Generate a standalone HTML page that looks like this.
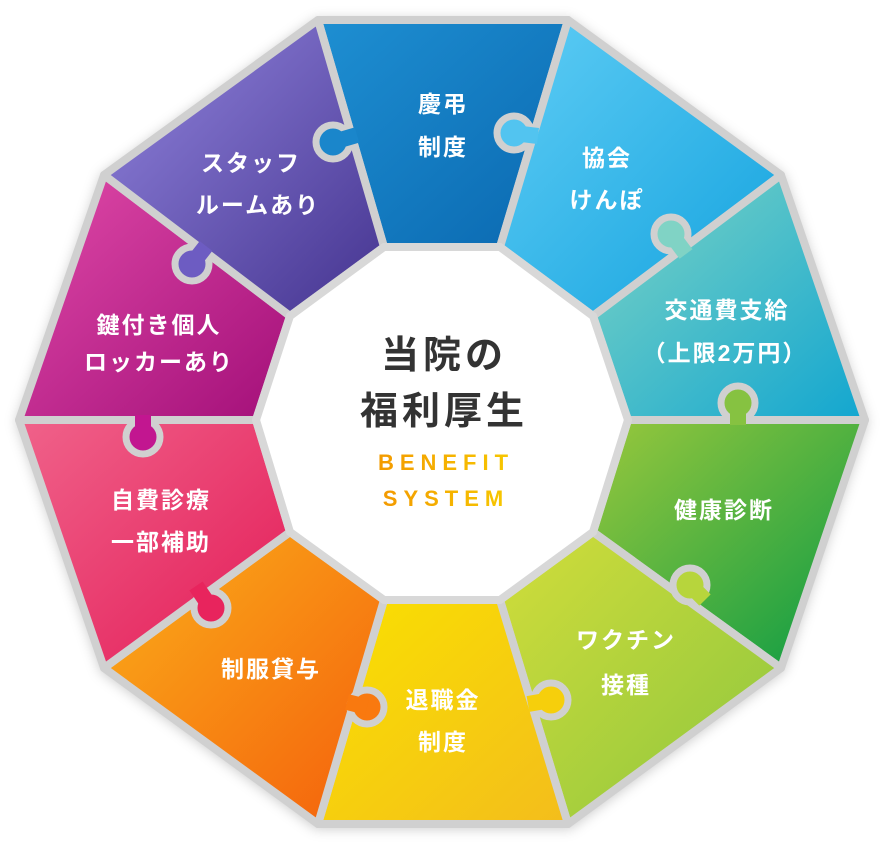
<!DOCTYPE html>
<html><head><meta charset="utf-8"><style>
html,body{margin:0;padding:0;background:#fff;width:884px;height:846px;overflow:hidden}
svg{display:block}
.l{font-family:"Liberation Sans","Noto Sans CJK JP",sans-serif;font-weight:bold;fill:#fff;font-size:23px;text-anchor:middle;letter-spacing:2px}
.c{font-family:"Liberation Sans","Noto Sans CJK JP",sans-serif;font-weight:bold;fill:#333;font-size:38px;text-anchor:middle;letter-spacing:4px}
.e{font-family:"Liberation Sans","Noto Sans CJK JP",sans-serif;font-size:22px;font-weight:bold;text-anchor:middle;letter-spacing:6px}
</style></head><body>
<svg width="884" height="846" viewBox="0 0 884 846">
<defs>
<filter id="sh" x="-10%" y="-10%" width="120%" height="120%"><feDropShadow dx="0" dy="2" stdDeviation="6" flood-color="#000" flood-opacity="0.2"/></filter>
<linearGradient id="g1" x1="0" y1="0" x2="1" y2="1"><stop offset="0" stop-color="#1e8fd2"/><stop offset="1" stop-color="#0a68b0"/></linearGradient>
<linearGradient id="g2" x1="0" y1="0" x2="1" y2="1"><stop offset="0" stop-color="#5fcdf5"/><stop offset="1" stop-color="#13a2de"/></linearGradient>
<linearGradient id="g3" x1="0" y1="0" x2="1" y2="1"><stop offset="0" stop-color="#7fd4c4"/><stop offset="1" stop-color="#12a6d0"/></linearGradient>
<linearGradient id="g4" x1="0" y1="0" x2="1" y2="1"><stop offset="0" stop-color="#9ac83c"/><stop offset="1" stop-color="#079a45"/></linearGradient>
<linearGradient id="g5" x1="0" y1="0" x2="1" y2="1"><stop offset="0" stop-color="#d2dd3a"/><stop offset="1" stop-color="#8cc63f"/></linearGradient>
<linearGradient id="g6" x1="0" y1="0" x2="1" y2="1"><stop offset="0" stop-color="#fae100"/><stop offset="1" stop-color="#f3bd1c"/></linearGradient>
<linearGradient id="g7" x1="0" y1="0" x2="1" y2="1"><stop offset="0" stop-color="#fbb01a"/><stop offset="1" stop-color="#f45f0c"/></linearGradient>
<linearGradient id="g8" x1="0" y1="0" x2="1" y2="1"><stop offset="0" stop-color="#f0628a"/><stop offset="1" stop-color="#e31b57"/></linearGradient>
<linearGradient id="g9" x1="0" y1="0" x2="1" y2="1"><stop offset="0" stop-color="#e04aa8"/><stop offset="1" stop-color="#a30f79"/></linearGradient>
<linearGradient id="g10" x1="0" y1="0" x2="1" y2="1"><stop offset="0" stop-color="#9386df"/><stop offset="1" stop-color="#44338f"/></linearGradient>
<linearGradient id="ge" x1="0" y1="0" x2="1" y2="0"><stop offset="0" stop-color="#f39a00"/><stop offset="1" stop-color="#f7c800"/></linearGradient>
</defs>
<polygon points="316,17 570,17 784,173 868,420 784,670 570,827 316,827 101,670 16,420 101,173" fill="#d2d2d2" filter="url(#sh)"/>
<g stroke="#d0d0d0" stroke-width="8" stroke-linejoin="round">
<polygon points="318,20 568,20 500,247 384,247" fill="url(#g1)"/>
<polygon points="568,20 781,175 593,316 500,247" fill="url(#g2)"/>
<polygon points="781,175 865,420 628,420 593,316" fill="url(#g3)"/>
<polygon points="865,420 781,668 593,532 628,420" fill="url(#g4)"/>
<polygon points="781,668 568,824 500,600 593,532" fill="url(#g5)"/>
<polygon points="568,824 318,824 384,600 500,600" fill="url(#g6)"/>
<polygon points="318,824 104,668 290,532 384,600" fill="url(#g7)"/>
<polygon points="104,668 19,420 256,420 290,532" fill="url(#g8)"/>
<polygon points="19,420 104,175 290,316 256,420" fill="url(#g9)"/>
<polygon points="104,175 318,20 384,247 290,316" fill="url(#g10)"/>
</g>
<g stroke="#d0d0d0" stroke-width="7">
<circle cx="333" cy="142" r="17" fill="#1a86cb"/>
<circle cx="514" cy="133" r="17" fill="#52c4f0"/>
<circle cx="671" cy="234" r="17" fill="#80d3c5"/>
<circle cx="738" cy="403" r="17" fill="#86c241"/>
<circle cx="690" cy="585" r="17" fill="#b7d53c"/>
<circle cx="551" cy="700" r="17" fill="#f6cf0c"/>
<circle cx="367" cy="707" r="17" fill="#f9790f"/>
<circle cx="211" cy="608" r="17" fill="#e8245d"/>
<circle cx="143" cy="437" r="17" fill="#c21690"/>
<circle cx="192" cy="264" r="17" fill="#6d5cc2"/>
</g>
<g stroke-width="16" stroke-linecap="butt">
<line x1="357" y1="135" x2="333" y2="142" stroke="#1a86cb"/>
<line x1="538" y1="136" x2="514" y2="133" stroke="#52c4f0"/>
<line x1="686" y1="254" x2="671" y2="234" stroke="#80d3c5"/>
<line x1="738" y1="425" x2="738" y2="403" stroke="#86c241"/>
<line x1="705" y1="600" x2="690" y2="585" stroke="#b7d53c"/>
<line x1="528" y1="704" x2="551" y2="700" stroke="#f6cf0c"/>
<line x1="347" y1="702" x2="367" y2="707" stroke="#f9790f"/>
<line x1="196" y1="586" x2="211" y2="608" stroke="#e8245d"/>
<line x1="143" y1="415" x2="143" y2="437" stroke="#c21690"/>
<line x1="206" y1="246" x2="192" y2="264" stroke="#6d5cc2"/>
</g>
<polygon points="384,247 500,247 593,316 628,420 593,532 500,600 384,600 290,532 256,420 290,316" fill="#fff" stroke="#d8d8d8" stroke-width="8"/>
<text class="c" x="444" y="368">当院の</text>
<text class="c" x="444" y="424">福利厚生</text>
<text class="e" x="446" y="470" fill="url(#ge)">BENEFIT</text>
<text class="e" x="446" y="506" fill="url(#ge)">SYSTEM</text>
<text class="l" x="443" y="112">慶弔</text><text class="l" x="443" y="155">制度</text>
<text class="l" x="607" y="166">協会</text><text class="l" x="607" y="208">けんぽ</text>
<text class="l" x="727" y="318">交通費支給</text><text class="l" x="725" y="361">（上限2万円）</text>
<text class="l" x="724" y="518">健康診断</text>
<text class="l" x="626" y="648">ワクチン</text><text class="l" x="626" y="693">接種</text>
<text class="l" x="443" y="708">退職金</text><text class="l" x="443" y="750">制度</text>
<text class="l" x="271" y="677">制服貸与</text>
<text class="l" x="161" y="508">自費診療</text><text class="l" x="161" y="550">一部補助</text>
<text class="l" x="159" y="333">鍵付き個人</text><text class="l" x="159" y="370">ロッカーあり</text>
<text class="l" x="251" y="171">スタッフ</text><text class="l" x="258" y="213">ルームあり</text>
</svg>
</body></html>
